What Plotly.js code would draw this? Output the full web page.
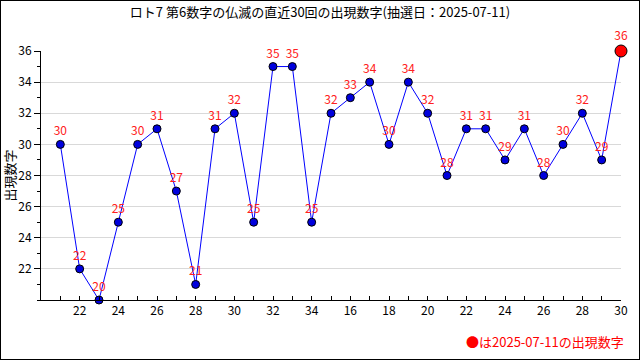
<!DOCTYPE html>
<html><head><meta charset="utf-8">
<script src="https://cdn.plot.ly/plotly-3.0.1.min.js"></script>
<style>
html,body{margin:0;padding:0;background:#fff;}
#wrap{position:relative;width:640px;height:360px;}
#chart{width:640px;height:360px;}
#frame{position:absolute;left:0;top:0;width:638px;height:358px;border:1px solid #000;pointer-events:none;}
</style></head>
<body>
<div id="wrap"><div id="chart"></div><div id="frame"></div></div>
<script>
var drawIndex = [1,2,3,4,5,6,7,8,9,10,11,12,13,14,15,16,17,18,19,20,21,22,23,24,25,26,27,28,29,30];
var values = [30,22,20,25,30,31,27,21,31,32,25,35,35,25,32,33,34,30,34,32,28,31,31,29,31,28,30,32,29,36];
var tickPositions = [2,4,6,8,10,12,14,16,18,20,22,24,26,28,30];
var tickLabels = ['22','24','26','28','30','32','34','16','18','20','22','24','26','28','30'];
var yTickValues = [22,24,26,28,30,32,34,36];
var titleText = 'ロト7 第6数字の仏滅の直近30回の出現数字(抽選日：2025-07-11)';
var noteText = '●は2025-07-11の出現数字';

var n = values.length;
var markerColors = values.map(function(v,i){return i===n-1?'#ff0000':'#0000dd';});
var markerSizes = values.map(function(v,i){return i===n-1?12:8;});
var font = '"Noto Sans CJK JP", "DejaVu Sans", sans-serif';

var trace = {
  x: drawIndex, y: values, type:'scatter', mode:'lines+markers+text',
  text: values.map(String), textposition:'top center',
  textfont:{color:'#ff2020', size:12, family:font},
  line:{color:'#0000ff', width:1},
  marker:{color:markerColors, size:markerSizes, opacity:1, line:{color:'#000', width:1}},
  cliponaxis:false, hoverinfo:'none'
};
var layout = {
  width:640, height:360,
  margin:{l:41, r:19, t:51, b:60},
  paper_bgcolor:'#fff', plot_bgcolor:'#fff',
  showlegend:false,
  title:{text:titleText, x:0.5, xanchor:'center', y:0.965, yanchor:'middle', font:{size:13, color:'#000', family:font}},
  xaxis:{range:[0,30], tickvals:tickPositions, ticktext:tickLabels, ticks:'inside', ticklen:4, tickcolor:'#000',
    minor:{dtick:1, tick0:0, ticks:'inside', ticklen:4, tickcolor:'#000', showgrid:false},
    showline:true, linecolor:'#000', linewidth:1, showgrid:false, zeroline:false,
    tickfont:{size:12, color:'#000', family:font}, fixedrange:true},
  yaxis:{range:[20,36], tickmode:'array', tickvals:yTickValues, ticks:'outside', ticklen:6, tickcolor:'#000',
    minor:{dtick:1, tick0:20, ticks:'outside', ticklen:3, tickcolor:'#000', showgrid:false},
    showline:true, linecolor:'#000', linewidth:1, showgrid:true, gridcolor:'#d9d9d9', zeroline:false,
    tickfont:{size:12, color:'#000', family:font},
    title:{text:'出現数字', font:{size:13, color:'#000', family:font}, standoff:1}, fixedrange:true},
  annotations:[{text:noteText, xref:'paper', yref:'paper', x:1.008, y:-0.165, xanchor:'right', yanchor:'middle',
    showarrow:false, font:{size:13, color:'#ff0000', family:font}}]
};
Plotly.newPlot('chart', [trace], layout, {displayModeBar:false, staticPlot:true});
</script>
</body></html>
